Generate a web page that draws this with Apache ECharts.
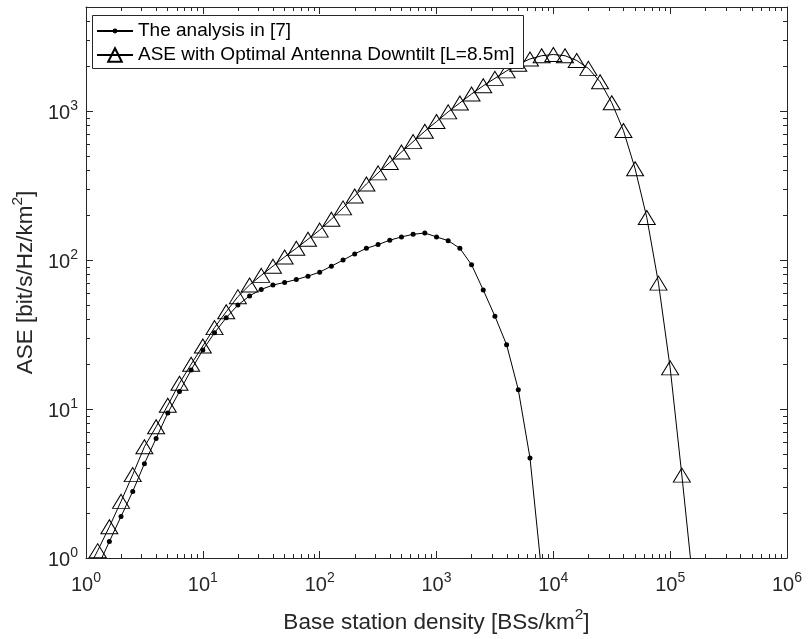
<!DOCTYPE html>
<html>
<head>
<meta charset="utf-8">
<script src="https://cdn.jsdelivr.net/npm/echarts@6/dist/echarts.min.js"></script>
<style>
  html, body { margin: 0; padding: 0; background: #fff; }
  #chart { width: 808px; height: 639px; }
</style>
</head>
<body>
<div id="chart"></div>
<script>
// BS density grid, 10 points per decade [BSs/km^2]
const density = [
  1, 1.259, 1.585, 1.995, 2.512, 3.162, 3.981, 5.012, 6.310, 7.943,
  10, 12.59, 15.85, 19.95, 25.12, 31.62, 39.81, 50.12, 63.10, 79.43,
  100, 125.9, 158.5, 199.5, 251.2, 316.2, 398.1, 501.2, 631.0, 794.3,
  1000, 1259, 1585, 1995, 2512, 3162, 3981, 5012, 6310, 7943,
  10000, 12589, 15849, 19953, 25119, 31623, 39811, 50119, 63096, 79433,
  100000, 125893, 158489
];

// ASE [bit/s/Hz/km^2] (null = not plotted)
const analysisAse = [
  null, 0.87, 1.29, 1.9, 2.8, 4.3, 6.35, 9.4, 13.1, 18.3,
  24.9, 32.5, 41, 49.9, 57.5, 63.5, 68, 70.8, 74, 78,
  83, 91, 100, 110, 120, 127, 136, 143, 149, 152,
  143, 135, 120, 93, 63, 42, 27, 13.5, 4.7, 0.8,
  null, null, null, null, null, null, null, null, null, null,
  null, null, null
];

const optimalAse = [
  0.79, 1.12, 1.62, 2.4, 3.63, 5.58, 7.6, 10.6, 14.9, 20,
  26.5, 35.2, 45, 56.8, 68, 79, 91, 105, 120, 138,
  159, 188, 224, 269, 324, 385, 452, 531, 624, 733,
  851, 989, 1135, 1303, 1479, 1660, 1862, 2065, 2239, 2355,
  2399, 2355, 2188, 1936, 1574, 1138, 741, 410, 193, 70,
  18.9, 3.6, 0.63
];

const seriesNames = ['The analysis in [7]', 'ASE with Optimal Antenna Downtilt [L=8.5m]'];
const xTitle = 'Base station density [BSs/km';
const yTitle = 'ASE [bit/s/Hz/km';

const font = '"Liberation Sans", Arial, Helvetica, sans-serif';
const ink = '#262626';

// minor tick positions (2..9 per decade) in log10 units
const xMinor = [];
for (let d = 0; d < 6; d++) for (let k = 2; k <= 9; k++) xMinor.push(d + Math.log10(k));
const yMinor = [];
for (let d = 0; d < 4; d++) for (let k = 2; k <= 9; k++) {
  if (k * Math.pow(10, d) < 5000) yMinor.push(d + Math.log10(k));
}

const supRich = {
  b: { fontSize: 20, fontFamily: font, color: ink, lineHeight: 24, verticalAlign: 'bottom' },
  s: { fontSize: 14, fontFamily: font, color: ink, lineHeight: 14, verticalAlign: 'top' }
};
const titleRich = {
  n: { fontSize: 22.5, fontFamily: font, color: ink, lineHeight: 27, verticalAlign: 'bottom' },
  s: { fontSize: 15.5, fontFamily: font, color: ink, lineHeight: 15, verticalAlign: 'top' }
};

function powLabel(v) {
  const e = Math.round(Math.log10(v));
  if (Math.abs(v / Math.pow(10, e) - 1) > 1e-6) return '';
  return '{b|10}{s|' + e + '}';
}

const line = { show: true, onZero: false, lineStyle: { color: ink, width: 1 } };
const noLine = { show: false, onZero: false };

function majorAxis(pos, min, max, margin) {
  return {
    type: 'log', logBase: 10, min: min, max: max, position: pos,
    axisLine: line,
    axisTick: { show: true, inside: true, length: 7, lineStyle: { color: ink, width: 1 } },
    axisLabel: margin != null ? { show: true, formatter: powLabel, rich: supRich, margin: margin } : { show: false },
    splitLine: { show: false },
    minorTick: { show: false }
  };
}
function minorAxis(pos, max, values) {
  return {
    type: 'value', min: 0, max: max, position: pos,
    axisLine: noLine,
    axisTick: { show: true, inside: true, length: 4, customValues: values, lineStyle: { color: ink, width: 1 } },
    axisLabel: { show: false },
    splitLine: { show: false }
  };
}

const chart = echarts.init(document.getElementById('chart'), null, { renderer: 'canvas' });

const xMain = majorAxis('bottom', 1, 1e6, 13);
xMain.name = '{n|' + xTitle + '}{s|2}{n|]}';
xMain.nameLocation = 'middle';
xMain.nameGap = 49;
xMain.nameTextStyle = { rich: titleRich };

const yMain = majorAxis('left', 1, 5000, 8);
yMain.name = '{n|' + yTitle + '}{s|2}{n|]}';
yMain.nameLocation = 'middle';
yMain.nameGap = 39;
yMain.nameRotate = 90;
yMain.nameTextStyle = { rich: titleRich };

const legendText = { fontSize: 19, fontFamily: font, color: '#000', lineHeight: 22 };

chart.setOption({
  animation: false,
  backgroundColor: '#fff',
  grid: { left: 86, right: 21, top: 7, bottom: 81, containLabel: false },
  graphic: [{
    type: 'rect', left: 92, top: 15, z: 50,
    shape: { width: 431, height: 53 },
    style: { fill: '#fff', stroke: ink, lineWidth: 1 }
  }],
  legend: [
    {
      left: 96, top: 20, padding: 0, z: 60,
      itemWidth: 36, itemHeight: 6, itemGap: 0,
      textStyle: legendText,
      data: [seriesNames[0]]
    },
    {
      left: 96, top: 44, padding: 0, z: 60,
      itemWidth: 36, itemHeight: 17, itemGap: 0,
      textStyle: legendText,
      data: [seriesNames[1]]
    }
  ],
  xAxis: [
    xMain,
    majorAxis('top', 1, 1e6, null),
    minorAxis('bottom', 6, xMinor),
    minorAxis('top', 6, xMinor)
  ],
  yAxis: [
    yMain,
    majorAxis('right', 1, 5000, null),
    minorAxis('left', Math.log10(5000), yMinor),
    minorAxis('right', Math.log10(5000), yMinor)
  ],
  series: [
    {
      name: seriesNames[0], type: 'line', xAxisIndex: 0, yAxisIndex: 0,
      data: density.map((x, i) => [x, analysisAse[i]]),
      symbol: 'circle', symbolSize: 5,
      itemStyle: { color: '#000' },
      lineStyle: { color: '#000', width: 1 },
      clip: true, z: 3
    },
    {
      name: seriesNames[1], type: 'line', xAxisIndex: 0, yAxisIndex: 0,
      data: density.map((x, i) => [x, optimalAse[i]]),
      symbol: 'triangle', symbolSize: [17, 14],
      itemStyle: { color: 'rgba(0,0,0,0)', borderColor: '#000', borderWidth: 1 },
      lineStyle: { color: '#000', width: 1 },
      clip: true, z: 4
    }
  ]
});
</script>
</body>
</html>
